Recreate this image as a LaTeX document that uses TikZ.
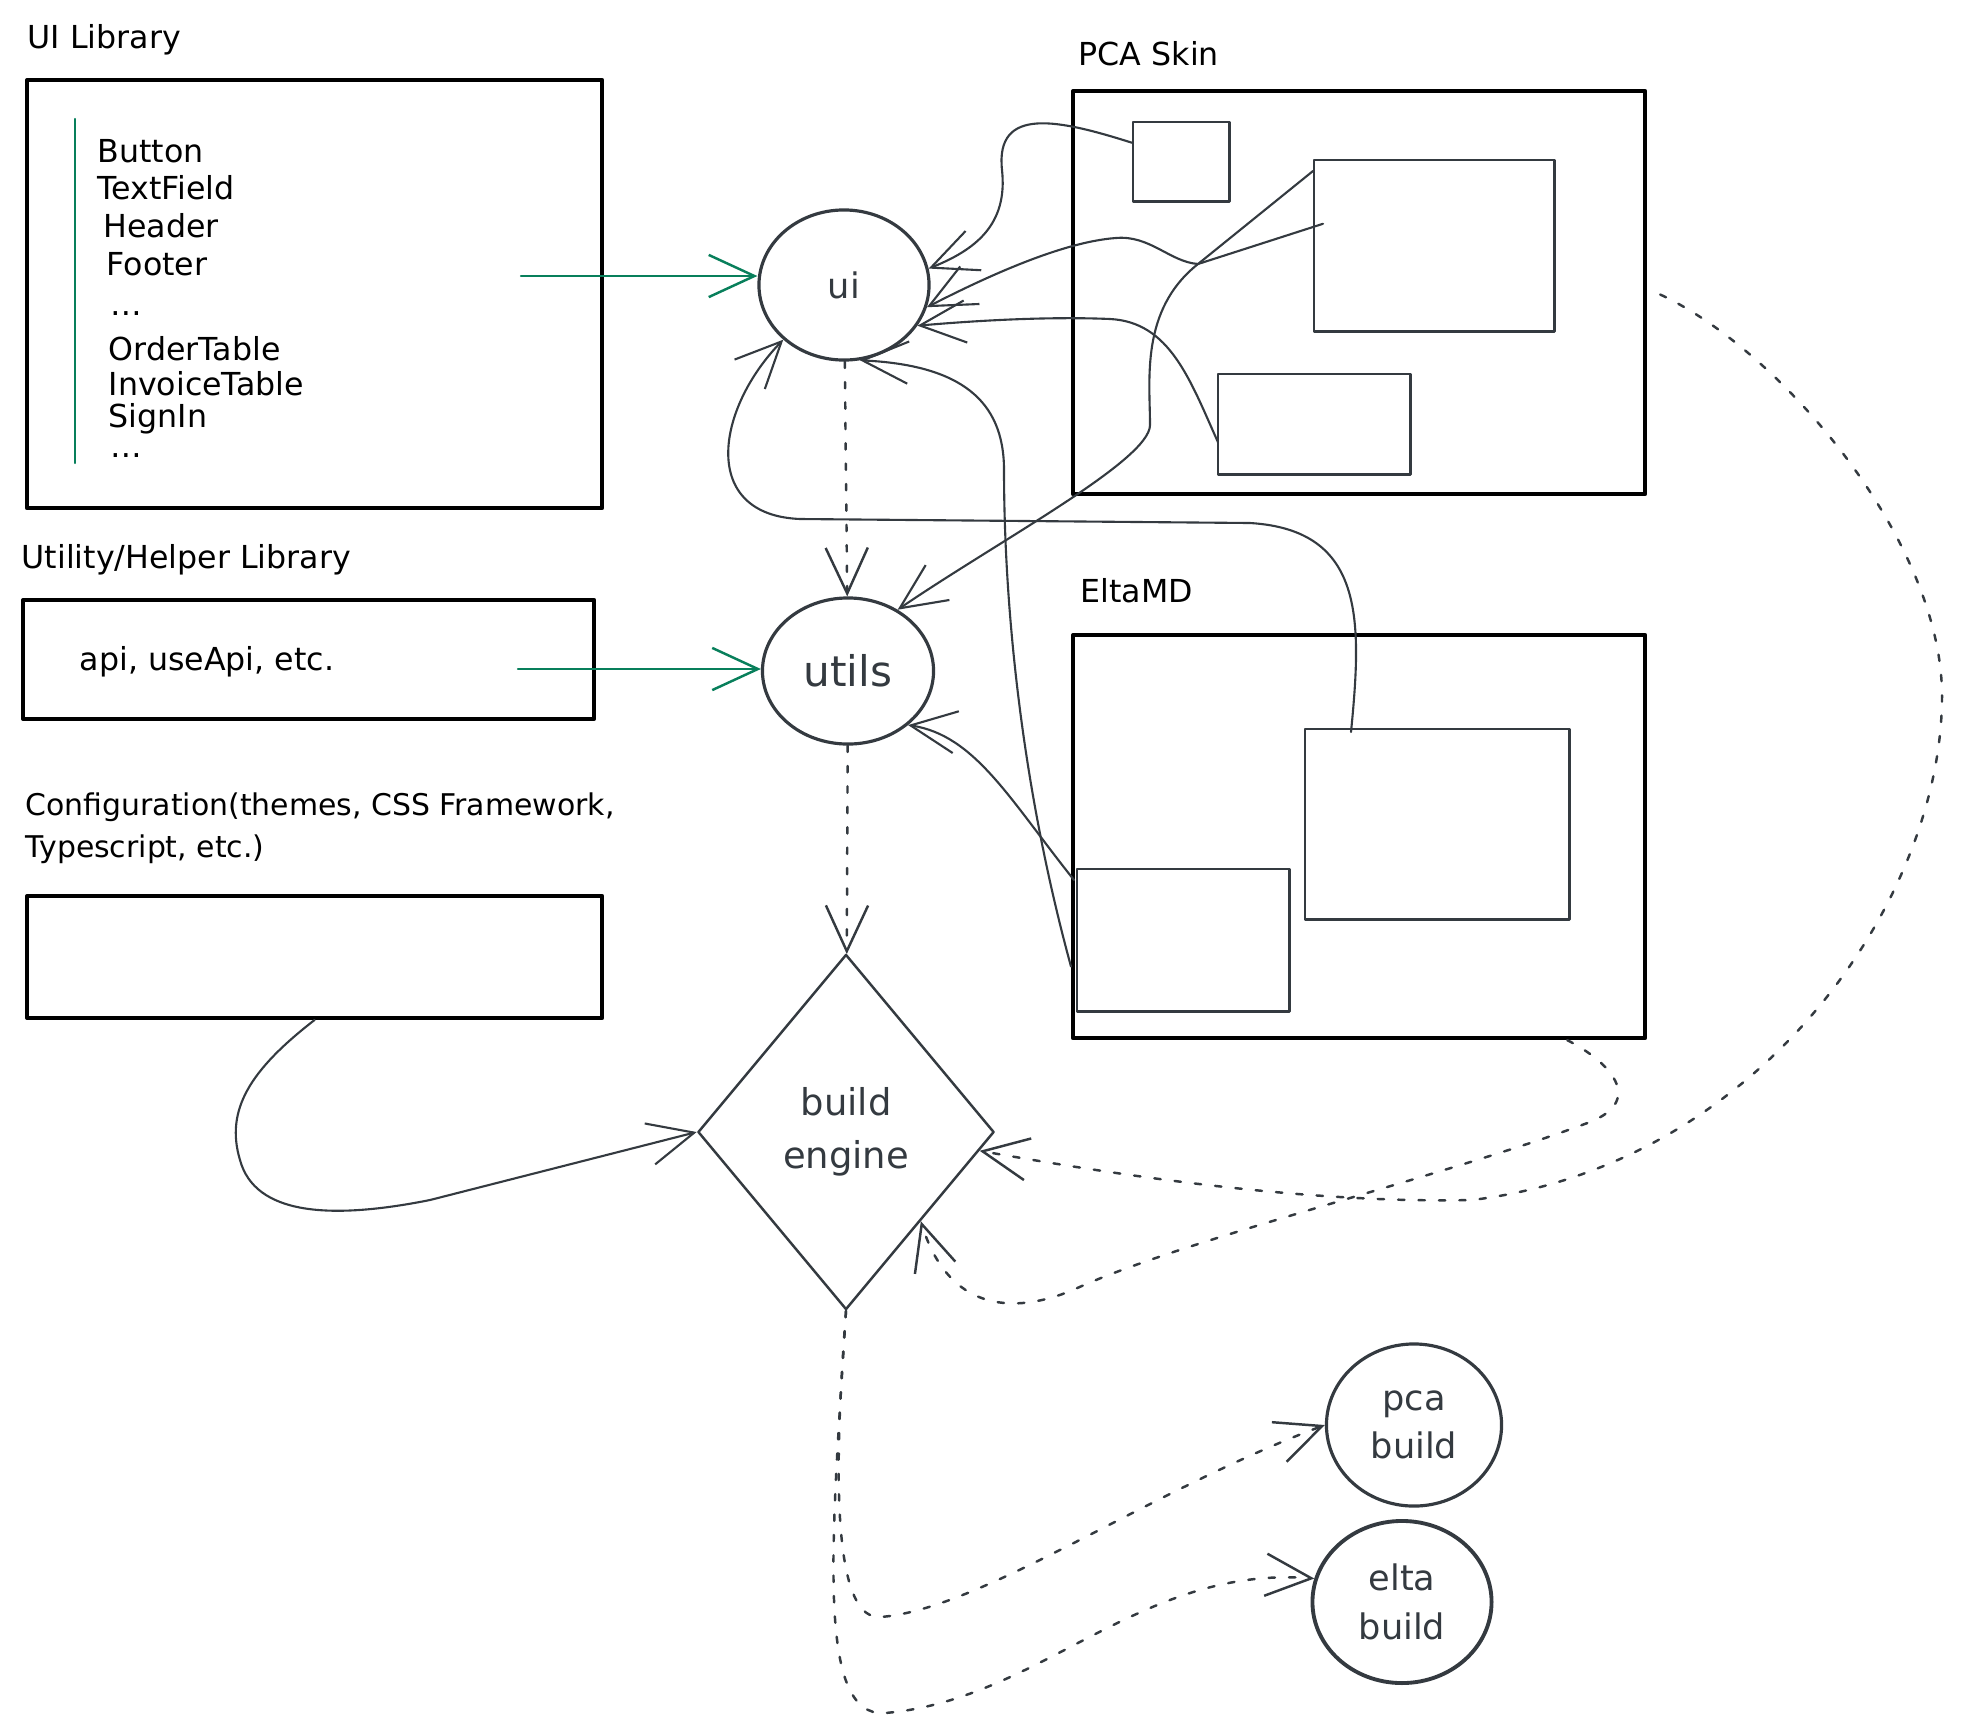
\documentclass[tikz,border=0pt]{standalone}
\usepackage{fontspec}
\setmainfont{DejaVu Sans}
\usetikzlibrary{shapes.geometric,arrows.meta,calc}
\definecolor{ink}{HTML}{343A40}
\definecolor{leaf}{HTML}{087F5B}
\begin{document}
\begin{tikzpicture}[
    x=0.01cm, y=-0.01cm,
    line cap=round, line join=round,
    txt/.style={anchor=base west, inner sep=0pt, font=\fontsize{9}{11}\selectfont},
    frame/.style={draw=black, line width=1.1pt, anchor=north west, inner sep=0pt},
    part/.style={draw=ink, line width=0.7pt, anchor=north west, inner sep=0pt},
    bubble/.style={ellipse, draw=ink, line width=0.9pt, inner sep=0pt, text=ink, align=center},
    link/.style={draw=ink, line width=0.6pt, -{Straight Barb[length=13pt,width=12pt]}},
    feed/.style={link, draw=leaf, line width=0.7pt},
    hint/.style={link, line width=0.7pt, dash pattern=on 1.8pt off 4pt}
]
  \useasboundingbox (0,0) rectangle (1961,1733);

  % left column
  \node[txt] (uihead) at (27,48) {UI Library};
  \node[frame, minimum width=5.75cm, minimum height=4.28cm] (uilib) at (25,78) {};
  \draw[leaf, line width=0.7pt] (75,119) -- (75,463);
  \foreach \x/\y/\t [count=\i] in {97/162/Button, 97/199/TextField, 103/237/Header,
      106/275/Footer, 110/315/\dots, 108/360/OrderTable, 108/395/InvoiceTable,
      108/427/SignIn, 110/457/\dots}
    \node[txt] (item\i) at (\x,\y) {\t};

  \node[txt] (utilhead) at (21,568) {Utility/Helper Library};
  \node[frame, minimum width=5.71cm, minimum height=1.19cm] (utilbox) at (21,598) {};
  \node[txt] (apis) at (79,670) {api, useApi, etc.};

  \node[txt, font=\fontsize{8.5}{11}\selectfont] (confhead) at (25,815) {Configuration(themes, CSS Framework,};
  \node[txt, font=\fontsize{8.5}{11}\selectfont] (confhead2) at (25,857) {Typescript, etc.)};
  \node[frame, minimum width=5.75cm, minimum height=1.22cm] (confbox) at (25,894) {};

  % middle column
  \node[bubble, minimum width=1.70cm, minimum height=1.50cm,
    font=\fontsize{10}{12}\selectfont] (ui) at (844,285) {ui};
  \node[bubble, minimum width=1.71cm, minimum height=1.46cm,
    font=\fontsize{12}{14}\selectfont] (utils) at (848,671) {utils};
  \node[diamond, draw=ink, line width=0.7pt, minimum width=2.96cm, minimum height=3.55cm,
    inner sep=0pt, text=ink, align=center,
    font=\fontsize{10.5}{15}\selectfont] (engine) at (846,1132) {build\\engine};
  \node[bubble, minimum width=1.75cm, minimum height=1.62cm,
    font=\fontsize{10}{13.5}\selectfont] (pcab) at (1414,1425) {pca\\build};
  \node[bubble, line width=1.1pt, minimum width=1.79cm, minimum height=1.62cm,
    font=\fontsize{10}{14}\selectfont] (eltab) at (1402,1602) {elta\\build};

  % right column
  \node[txt] (pcahead) at (1078,65) {PCA Skin};
  \node[frame, minimum width=5.72cm, minimum height=4.03cm] (pcabox) at (1071,89) {};
  \node[part, minimum width=0.96cm, minimum height=0.79cm] (pcaA) at (1132,121) {};
  \node[part, minimum width=2.40cm, minimum height=1.71cm] (pcaB) at (1313,159) {};
  \node[part, minimum width=1.92cm, minimum height=1.00cm] (pcaC) at (1217,373) {};

  \node[txt] (eltahead) at (1080,602) {EltaMD};
  \node[frame, minimum width=5.72cm, minimum height=4.03cm] (eltabox) at (1071,633) {};
  \node[part, minimum width=2.64cm, minimum height=1.90cm] (eltaA) at (1304,728) {};
  \node[part, minimum width=2.12cm, minimum height=1.42cm] (eltaB) at (1076,868) {};

  \coordinate (uifrom) at (521,276);
  \coordinate (utilfrom) at (518,669);
  \coordinate (knot) at (1198,264);

  \draw[feed] (uifrom) -- (uifrom -| ui.west);
  \draw[feed] (utilfrom) -- (utilfrom -| utils.west);

  \draw[link] ($(pcaA.west)+(0,-19)$)
    .. controls (1060,120) and (995,105) .. (1002,170)
    .. controls (1008,225) and (975,250) .. (ui.11);
  \draw[link] ($(pcaB.north west)+(0,12)$) -- (knot)
    .. controls (1170,262) and (1150,235) .. (1116,238)
    .. controls (1060,242) and (980,280) .. (ui.-15);
  \draw[link] ($(pcaB.west)+(10,-22)$) -- (knot)
    .. controls (1140,310) and (1150,380) .. (1150,425)
    .. controls (1150,460) and (1000,540) .. (utils.51);
  \draw[link] ($(pcaC.west)+(1,18)$)
    .. controls (1190,380) and (1170,322) .. (1110,319)
    .. controls (1040,316) and (960,322) .. (ui.-29);
  \draw[link] ($(eltaA.north west)+(47,4)$)
    .. controls (1362,620) and (1365,530) .. (1250,523)
    -- (800,519)
    .. controls (700,515) and (715,410) .. (ui.222);
  \draw[link] ($(eltabox.west)+(0,130)$)
    .. controls (1020,780) and (1004,600) .. (1004,470)
    .. controls (1004,400) and (960,365) .. (ui.-78);
  \draw[link] ($(eltaB.north west)+(-2,12)$)
    .. controls (1010,800) and (975,735) .. (utils.-42);
  \draw[link] (confbox.south)
    .. controls (250,1070) and (225,1110) .. (240,1160)
    .. controls (255,1215) and (330,1220) .. (430,1200)
    -- (engine.west);

  \draw[hint] (ui) -- (utils);
  \draw[hint] (utils) -- (engine);
  \draw[hint] ($(pcabox.east)+(13,2)$)
    .. controls (1780,350) and (1942,540) .. (1942,696)
    .. controls (1942,900) and (1760,1165) .. (1472,1200)
    .. controls (1300,1204) and (1100,1172) .. (engine.-8);
  \draw[hint] ($(eltabox.south east)+(-80,0)$)
    .. controls (1610,1062) and (1645,1100) .. (1590,1122)
    .. controls (1450,1175) and (1180,1240) .. (1073,1290)
    .. controls (1000,1320) and (945,1300) .. (engine.-50);
  \draw[hint] (engine.south)
    .. controls (838,1420) and (825,1620) .. (880,1617)
    .. controls (980,1610) and (1150,1490) .. (pcab.west);
  \draw[hint] (engine.south)
    .. controls (832,1540) and (815,1718) .. (885,1713)
    .. controls (1040,1700) and (1140,1565) .. (eltab.165);
\end{tikzpicture}
\end{document}
